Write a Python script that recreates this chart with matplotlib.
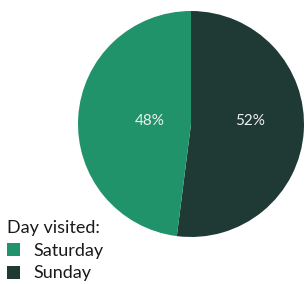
import matplotlib
matplotlib.use("Agg")
import matplotlib.pyplot as plt
from matplotlib.patches import Patch
import numpy as np

categories = ["Saturday", "Sunday"]
values = [48, 52]
colors = ["#21936a", "#1f3a35"]
legend_title = "Day visited:"

plt.rcParams['font.family'] = ['Lato', 'DejaVu Sans']

W, H = 306, 284
fig = plt.figure(figsize=(W/100, H/100), dpi=100)
cx, cy, r = 191, 124, 113
ax = fig.add_axes([(cx-r)/W, (H-cy-r)/H, 2*r/W, 2*r/H])

# draw Sunday first clockwise from top, then Saturday
order = [1, 0]
wedges, texts, autotexts = ax.pie([values[i] for i in order],
                                  colors=[colors[i] for i in order],
                                  startangle=90, counterclock=False,
                                  autopct=lambda p: f"{p:.0f}%",
                                  pctdistance=0.45,
                                  textprops=dict(color="#f0f0f0", fontsize=11),
                                  wedgeprops=dict(linewidth=0))
dists = [0.52, 0.37]
for w, t, d in zip(wedges, autotexts, dists):
    ang = np.deg2rad((w.theta1 + w.theta2) / 2)
    t.set_position((d*np.cos(ang), 0.027))
ax.set_xlim(-1, 1)
ax.set_ylim(-1, 1)
ax.set_aspect('auto')
ax.axis('off')

handles = [Patch(facecolor=c, edgecolor='none') for c in colors]
leg = fig.legend(handles, categories, title=legend_title, loc='lower left',
                 bbox_to_anchor=(-0.025, -0.042), frameon=False, fontsize=13,
                 title_fontsize=13, handlelength=0.75, handleheight=0.75,
                 handletextpad=0.75, labelspacing=0.38, borderpad=0.3)
leg._legend_box.align = "left"
for t in leg.get_texts():
    t.set_color("#1a1a1a")
leg.get_title().set_color("#1a1a1a")

fig.savefig("out.png", dpi=100)
